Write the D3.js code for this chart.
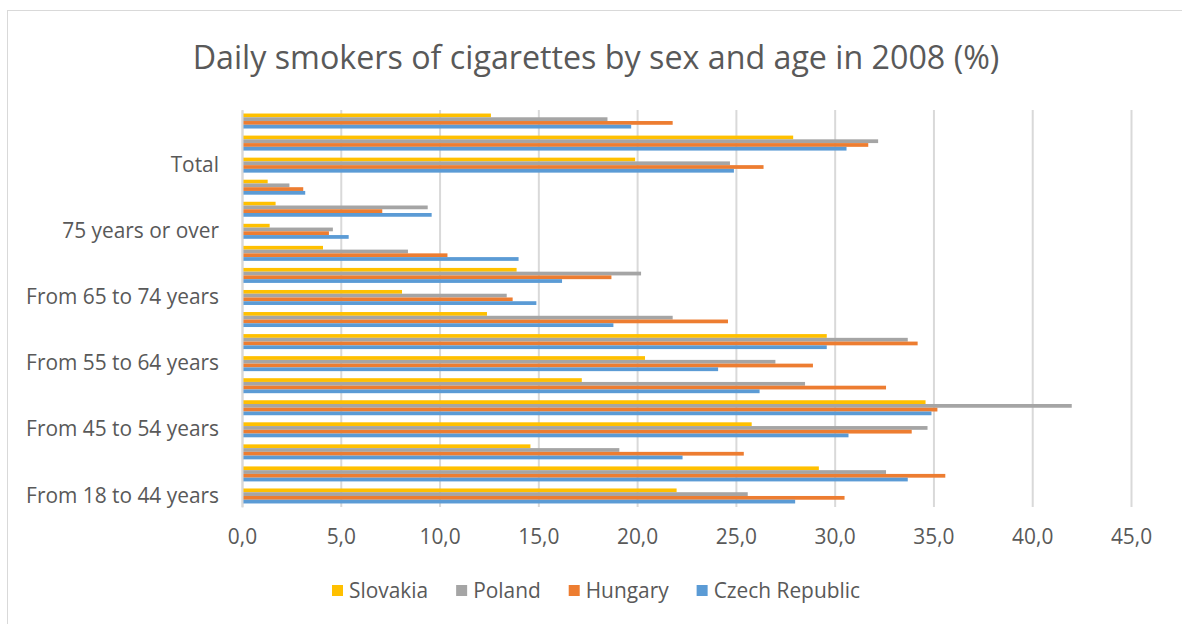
<!DOCTYPE html>
<html>
<head>
<meta charset="utf-8">
<script src="https://cdn.jsdelivr.net/npm/d3@7"></script>
<style>
  html, body { margin: 0; padding: 0; background: #fff; }
  svg { display: block; }
  text { font-family: "Open Sans", Lato, sans-serif; fill: #595959; }
</style>
</head>
<body>
<svg id="chart" width="1182" height="624"></svg>
<script>
// Categories, bottom to top (first category at the bottom, as in the original)
const categories = [
  "From 18 to 44 years", "From 18 to 44 years - males", "From 18 to 44 years - females",
  "From 45 to 54 years", "From 45 to 54 years - males", "From 45 to 54 years - females",
  "From 55 to 64 years", "From 55 to 64 years - males", "From 55 to 64 years - females",
  "From 65 to 74 years", "From 65 to 74 years - males", "From 65 to 74 years - females",
  "75 years or over", "75 years or over - males", "75 years or over - females",
  "Total", "Total - males", "Total - females"
];
// Only these category labels are displayed on the axis
const tickLabels = ["From 18 to 44 years", "From 45 to 54 years", "From 55 to 64 years",
  "From 65 to 74 years", "75 years or over", "Total"];

const seriesNames = ["Slovakia", "Poland", "Hungary", "Czech Republic"];
const czechRepublic = [28.0, 33.7, 22.3, 30.7, 34.9, 26.2, 24.1, 29.6, 18.8, 14.9, 16.2, 14.0, 5.4, 9.6, 3.2, 24.9, 30.6, 19.7];
const hungary       = [30.5, 35.6, 25.4, 33.9, 35.2, 32.6, 28.9, 34.2, 24.6, 13.7, 18.7, 10.4, 4.4, 7.1, 3.1, 26.4, 31.7, 21.8];
const poland        = [25.6, 32.6, 19.1, 34.7, 42.0, 28.5, 27.0, 33.7, 21.8, 13.4, 20.2, 8.4, 4.6, 9.4, 2.4, 24.7, 32.2, 18.5];
const slovakia      = [22.0, 29.2, 14.6, 25.8, 34.6, 17.2, 20.4, 29.6, 12.4, 8.1, 13.9, 4.1, 1.4, 1.7, 1.3, 19.9, 27.9, 12.6];
const xTicks = [0, 5, 10, 15, 20, 25, 30, 35, 40, 45];
const title = "Daily smokers of cigarettes by sex and age in 2008 (%)";

const seriesValues = {
  "Slovakia": slovakia, "Poland": poland, "Hungary": hungary, "Czech Republic": czechRepublic
};
const colors = { "Slovakia": "#FFC000", "Poland": "#A5A5A5", "Hungary": "#ED7D31", "Czech Republic": "#5B9BD5" };

const svg = d3.select("#chart");
const W = 1182, H = 624;
const margin = { left: 242, right: 1182 - 1131, top: 110, bottom: 624 - 507 };

// fit a text element's font-size so its width matches a target width
function fitWidth(sel, target) {
  const fs = parseFloat(sel.style("font-size"));
  const w = sel.node().getComputedTextLength();
  return fs * target / w;
}

// outer chart border
svg.append("rect").attr("x", 7.5).attr("y", 10.5).attr("width", 1200).attr("height", 700)
  .attr("fill", "#fff").attr("stroke", "#D9D9D9").attr("stroke-width", 1);

const x = d3.scaleLinear().domain([0, 45]).range([margin.left, W - margin.right]);
const y = d3.scaleBand().domain(categories.slice().reverse())
  .range([margin.top, H - margin.bottom]).paddingInner(0.32).paddingOuter(0.16);
const ys = d3.scaleBand().domain(seriesNames).range([0, y.bandwidth()]);

// title
const t = svg.append("text").attr("x", 596).attr("y", 69).attr("text-anchor", "middle")
  .style("font-size", "31px").style("font-weight", 400).text(title);
t.style("font-size", fitWidth(t, 807) + "px");

// probe for label font size
const probe = svg.append("text").style("font-size", "19px").text("From 18 to 44 years");
const labelFS = fitWidth(probe, 193);
probe.remove();

// gridlines + x axis labels
const xAxis = d3.axisBottom(x).tickValues(xTicks)
  .tickFormat(d => d3.format(".1f")(d).replace(".", ","))
  .tickSize(-(H - margin.bottom - margin.top)).tickPadding(22);
const gx = svg.append("g").attr("transform", `translate(0,${H - margin.bottom})`).call(xAxis);
gx.select(".domain").remove();
gx.selectAll(".tick line").attr("stroke", "#D9D9D9").attr("stroke-width", 2);
gx.selectAll(".tick text").style("font-size", labelFS + "px").attr("fill", "#595959");

// bars
const groups = svg.append("g").selectAll("g").data(categories).join("g")
  .attr("transform", d => `translate(0,${y(d)})`);
groups.selectAll("rect")
  .data((c, i) => seriesNames.map(s => ({ s, v: seriesValues[s][i] })))
  .join("rect")
  .attr("x", x(0))
  .attr("y", d => ys(d.s))
  .attr("width", d => x(d.v) - x(0))
  .attr("height", ys.bandwidth())
  .attr("fill", d => colors[d.s]);

// y axis
const yAxis = d3.axisLeft(y).tickSize(0).tickPadding(23)
  .tickFormat(d => tickLabels.includes(d) ? d : "");
const gy = svg.append("g").attr("transform", `translate(${margin.left},0)`).call(yAxis);
gy.select(".domain").attr("stroke", "#D9D9D9").attr("stroke-width", 2);
gy.selectAll(".tick text").style("font-size", labelFS + "px").attr("fill", "#595959");

// legend (centred under the chart)
const sw = 11, swGap = 6, itemGap = 28;
const lg = svg.append("g");
const items = seriesNames.map(s => {
  const g = lg.append("g");
  g.append("rect").attr("y", 585).attr("width", sw).attr("height", sw).attr("fill", colors[s]);
  const tx = g.append("text").attr("x", sw + swGap).attr("y", 597.5)
    .style("font-size", labelFS + "px").text(s);
  return { g, w: sw + swGap + tx.node().getComputedTextLength() };
});
const total = d3.sum(items, d => d.w) + itemGap * (items.length - 1);
let cx = 596 - total / 2;
items.forEach(it => { it.g.attr("transform", `translate(${cx},0)`); cx += it.w + itemGap; });
</script>
</body>
</html>
